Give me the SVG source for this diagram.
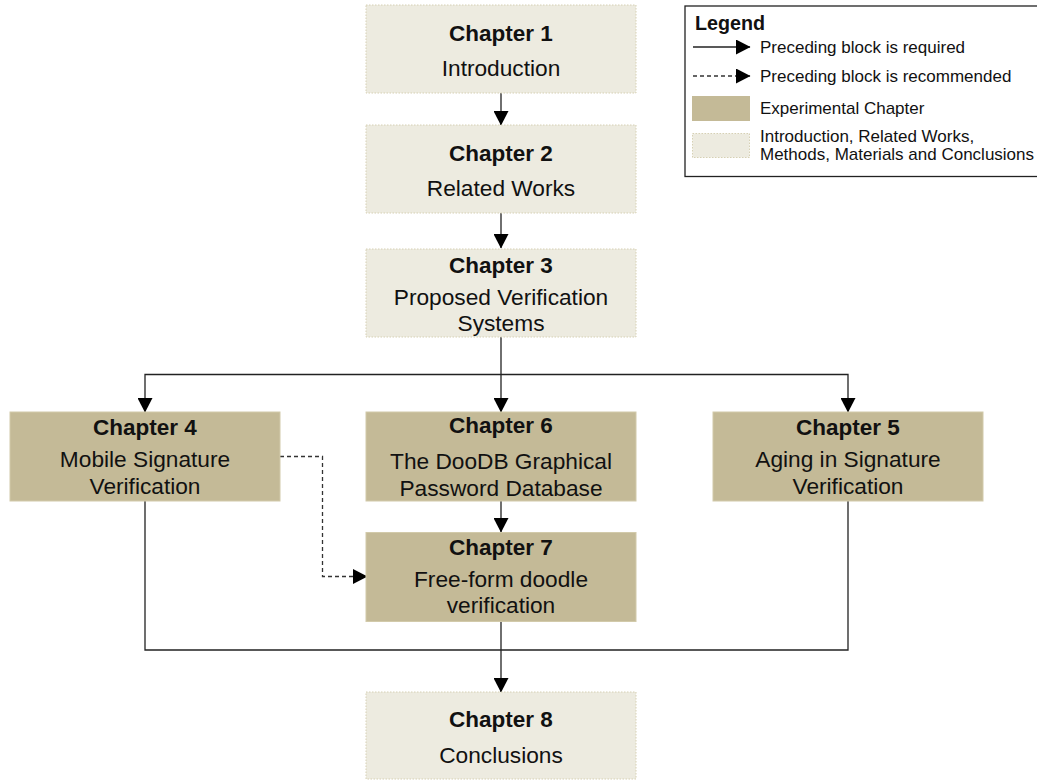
<svg xmlns="http://www.w3.org/2000/svg" width="1037" height="780" viewBox="0 0 1037 780">
<defs>
<style>
.lt{fill:#EDEBE0;stroke:#D6D0B4;stroke-width:1;stroke-dasharray:1.5 1.5}
.dk{fill:#C4BA97;stroke:#D2CAAA;stroke-width:1}
.h{font-family:"Liberation Sans",Arial,sans-serif;font-weight:bold;font-size:22.5px;fill:#111;text-anchor:middle}
.t{font-family:"Liberation Sans",Arial,sans-serif;font-size:22.7px;fill:#111;text-anchor:middle}
.c{fill:none;stroke:#222;stroke-width:1.3}
.d{fill:none;stroke:#333;stroke-width:1.3;stroke-dasharray:4 3}
.lg{font-family:"Liberation Sans",Arial,sans-serif;font-size:17px;fill:#111}
.lgh{font-family:"Liberation Sans",Arial,sans-serif;font-size:19.7px;font-weight:bold;fill:#111}
</style>
<marker id="ah" markerWidth="15" markerHeight="15" refX="14" refY="7.5" orient="auto" markerUnits="userSpaceOnUse">
<path d="M0,0 L14.5,7.5 L0,15 Z" fill="#000"/>
</marker>
</defs>
<rect width="1037" height="780" fill="#fff"/>

<g id="connectors">
<line class="c" x1="501" y1="93" x2="501" y2="125" marker-end="url(#ah)"/>
<line class="c" x1="501" y1="213" x2="501" y2="248" marker-end="url(#ah)"/>
<line class="c" x1="501" y1="337" x2="501" y2="412" marker-end="url(#ah)"/>
<polyline class="c" points="501,374.5 145,374.5 145,412" marker-end="url(#ah)"/>
<polyline class="c" points="501,374.5 848,374.5 848,412" marker-end="url(#ah)"/>
<line class="c" x1="501" y1="501" x2="501" y2="532" marker-end="url(#ah)"/>
<polyline class="d" points="280,456.5 322.5,456.5 322.5,576.5 367,576.5" marker-end="url(#ah)"/>
<line class="c" x1="501" y1="622" x2="501" y2="692" marker-end="url(#ah)"/>
<polyline class="c" points="145,501 145,650 848,650 848,501"/>
</g>

<g id="ch1">
<rect class="lt" x="366" y="5" width="270" height="88"/>
<text class="h" x="501" y="40.5">Chapter 1</text>
<text class="t" x="501" y="76">Introduction</text>
</g>
<g id="ch2">
<rect class="lt" x="366" y="125" width="270" height="88"/>
<text class="h" x="501" y="160.5">Chapter 2</text>
<text class="t" x="501" y="196">Related Works</text>
</g>
<g id="ch3">
<rect class="lt" x="366" y="249" width="270" height="88"/>
<text class="h" x="501" y="272.5">Chapter 3</text>
<text class="t" x="501" y="305">Proposed Verification</text>
<text class="t" x="501" y="330.5">Systems</text>
</g>
<g id="ch4">
<rect class="dk" x="10" y="412" width="270" height="89"/>
<text class="h" x="145" y="435">Chapter 4</text>
<text class="t" x="145" y="467">Mobile Signature</text>
<text class="t" x="145" y="494">Verification</text>
</g>
<g id="ch6">
<rect class="dk" x="366" y="412" width="270" height="89"/>
<text class="h" x="501" y="432.5">Chapter 6</text>
<text class="t" x="501" y="469">The DooDB Graphical</text>
<text class="t" x="501" y="496">Password Database</text>
</g>
<g id="ch5">
<rect class="dk" x="713" y="412" width="270" height="89"/>
<text class="h" x="848" y="435">Chapter 5</text>
<text class="t" x="848" y="467">Aging in Signature</text>
<text class="t" x="848" y="494">Verification</text>
</g>
<g id="ch7">
<rect class="dk" x="366" y="532.5" width="270" height="89"/>
<text class="h" x="501" y="555">Chapter 7</text>
<text class="t" x="501" y="586.5">Free-form doodle</text>
<text class="t" x="501" y="613">verification</text>
</g>
<g id="ch8">
<rect class="lt" x="366" y="692" width="270" height="87"/>
<text class="h" x="501" y="727">Chapter 8</text>
<text class="t" x="501" y="762.5">Conclusions</text>
</g>

<g id="legend">
<rect x="685" y="6" width="360" height="170.5" fill="#fff" stroke="#222" stroke-width="1.3"/>
<text class="lgh" x="695" y="30">Legend</text>
<line class="c" x1="693" y1="47" x2="750" y2="47" marker-end="url(#ah)"/>
<text class="lg" x="760" y="53">Preceding block is required</text>
<line class="d" x1="693" y1="76" x2="750" y2="76" marker-end="url(#ah)"/>
<text class="lg" x="760" y="82">Preceding block is recommended</text>
<rect x="692" y="96" width="58" height="25" fill="#C4BA97"/>
<text class="lg" x="760" y="114">Experimental Chapter</text>
<rect class="lt" x="692.5" y="133.5" width="57" height="24"/>
<text class="lg" x="760" y="142">Introduction, Related Works,</text>
<text class="lg" x="760" y="159.5">Methods, Materials and Conclusions</text>
</g>
</svg>
